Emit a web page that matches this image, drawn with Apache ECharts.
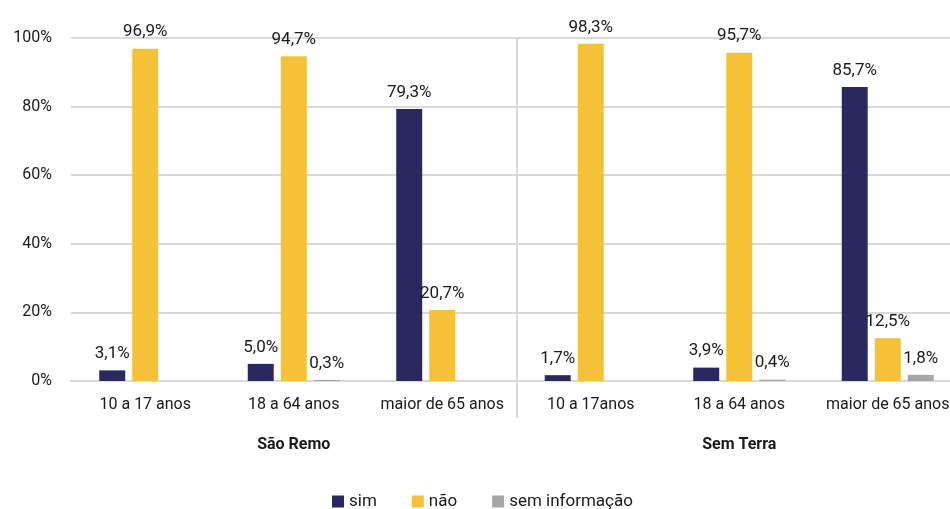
<!DOCTYPE html>
<html><head><meta charset="utf-8">
<script src="https://cdn.jsdelivr.net/npm/echarts@6/dist/echarts.min.js"></script>
<style>html,body{margin:0;padding:0;background:#fff}#c{width:950px;height:509px}</style>
</head><body><div id="c"></div>
<script>
const categories = ['10 a 17 anos', '18 a 64 anos', 'maior de 65 anos', '10 a 17anos', '18 a 64 anos', 'maior de 65 anos'];
const groups = ['São Remo', 'Sem Terra'];
const seriesNames = ['sim', 'não', 'sem informação'];
const simValues = [3.1, 5.0, 79.3, 1.7, 3.9, 85.7];
const naoValues = [96.9, 94.7, 20.7, 98.3, 95.7, 12.5];
const semInfoValues = [null, 0.3, null, null, 0.4, 1.8];
const yTicks = [0, 20, 40, 60, 80, 100];

const FONT = 'Roboto';
const colors = ['#29295f', '#f5c136', '#a6a6a6'];
const lineColor = '#d9d9d9';
const fmt = p => p.value == null ? '' : p.value.toFixed(1).replace('.', ',') + '%';

function bar(name, data, color) {
  return {
    name, type: 'bar', data, barWidth: 26, barGap: '27%',
    itemStyle: { color },
    label: { show: true, position: 'top', distance: 8, formatter: fmt, color: '#1a1a1a', fontFamily: FONT, fontSize: 17 }
  };
}

const chart = echarts.init(document.getElementById('c'));
chart.setOption({
  animation: false,
  grid: { left: 71, top: 38, bottom: 128, right: -12, containLabel: false, outerBoundsMode: 'none' },
  legend: {
    data: seriesNames, bottom: -6, left: 327, itemWidth: 12, itemHeight: 12, itemGap: 35,
    icon: 'rect', textStyle: { fontFamily: FONT, fontSize: 17, color: '#1a1a1a' }
  },
  xAxis: [{
    type: 'category', data: categories, position: 'bottom',
    axisLine: { show: true, lineStyle: { color: lineColor, width: 2 } },
    axisTick: { show: false },
    axisLabel: { interval: 0, margin: 16, fontFamily: FONT, fontSize: 16, color: '#1a1a1a' }
  }, {
    type: 'category', data: groups, position: 'bottom', offset: 48,
    axisLine: { show: false }, axisTick: { show: false },
    axisLabel: { fontFamily: FONT, fontSize: 16, fontWeight: 'bold', color: '#1a1a1a' }
  }, {
    type: 'value', min: 0, max: categories.length, position: 'bottom',
    axisLine: { show: false },
    axisLabel: { show: false },
    axisTick: { show: true, length: 37, customValues: [categories.length / 2], lineStyle: { color: lineColor, width: 2 } },
    splitLine: { show: true, customValues: [categories.length / 2], lineStyle: { color: lineColor, width: 2 } }
  }],
  yAxis: {
    type: 'value', min: yTicks[0], max: yTicks[yTicks.length - 1], interval: 20,
    axisLine: { show: false }, axisTick: { show: false },
    splitLine: { lineStyle: { color: lineColor, width: 2 } },
    axisLabel: { margin: 19, formatter: v => v + '%', fontFamily: FONT, fontSize: 16, color: '#1a1a1a' }
  },
  series: [
    bar(seriesNames[0], simValues, colors[0]),
    bar(seriesNames[1], naoValues, colors[1]),
    bar(seriesNames[2], semInfoValues, colors[2])
  ]
});
</script></body></html>
